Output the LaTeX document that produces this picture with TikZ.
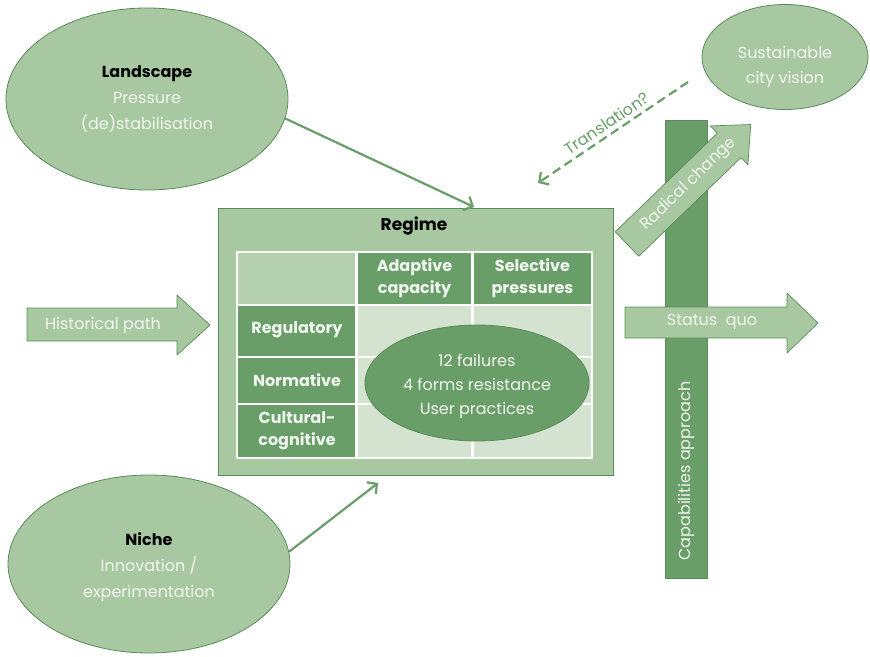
\documentclass[tikz,border=0pt]{standalone}
\usepackage{fontspec}
\setmainfont{Poppins}
\usetikzlibrary{shapes.geometric,arrows.meta,calc}

\definecolor{leaf}{HTML}{A8C8A1}
\definecolor{moss}{HTML}{6A9E69}
\definecolor{rim}{HTML}{5A8B5A}
\definecolor{pale}{HTML}{D3E3D0}
\definecolor{chalk}{HTML}{F1F5EF}

\tikzset{
  base/.style={font=\fontsize{16}{24}\selectfont},
  bubble/.style={ellipse, fill=leaf, draw=rim, line width=0.8pt, inner sep=0pt},
  bubbletext/.style={align=center, text=chalk, inner sep=0pt,
    font=\fontsize{16}{26}\selectfont},
  cell/.style={rectangle, draw=white, line width=2.5pt, inner sep=0pt,
    align=center, text=chalk, font=\fontsize{16}{22}\selectfont\bfseries},
  darkcell/.style={cell, fill=moss},
  palecell/.style={cell, fill=pale},
  blockarrow/.style={fill=leaf, draw=rim, line width=0.7pt, line join=round},
  arrowtext/.style={base, text=chalk, inner sep=0pt},
  link/.style={draw=moss, line width=2.2pt,
    -{Straight Barb[length=7pt,width=15pt,line width=2.2pt]}},
  hint/.style={link, dash pattern=on 9pt off 5pt},
  title/.style={text=black, font=\fontsize{17}{24}\selectfont\bfseries}
}

\begin{document}
\begin{tikzpicture}[x=1pt, y=-1pt]
  \useasboundingbox (0,0) rectangle (870,656);

  % capability bar sits behind the outgoing arrows
  \node[rectangle, fill=moss, draw=rim, line width=0.7pt, minimum width=42pt,
        minimum height=458pt, inner sep=0pt] (capbar) at (686,349) {};
  \node[arrowtext, rotate=90] (captext) at (686,471) {Capabilities approach};

  % landscape, niche and vision bubbles
  \node[bubble, minimum width=282pt, minimum height=182pt] (landscape) at (147,99) {};
  \node[bubbletext] (landtext) at (147,99.5)
    {{\bfseries\color{black}Landscape}\\Pressure\\(de)stabilisation};
  \node[bubble, minimum width=282pt, minimum height=178pt] (niche) at (149,564) {};
  \node[bubbletext] (nichetext) at (149,567)
    {{\bfseries\color{black}Niche}\\Innovation /\\experimentation};
  \node[bubble, minimum width=166pt, minimum height=105pt] (vision) at (785,57) {};
  \node[bubbletext, font=\fontsize{16}{25}\selectfont] (visiontext) at (785,67)
    {Sustainable\\city vision};

  % regime box
  \node[rectangle, fill=leaf, draw=rim, line width=0.8pt, minimum width=395pt,
        minimum height=267pt, inner sep=0pt] (regime) at (415.5,341.5) {};
  \node[title] (regimetitle) at (414,226) {Regime};

  % the grid inside the regime
  \node[cell, fill=leaf!85!white, minimum width=120pt, minimum height=53pt] (corner) at (297,278.5) {};
  \node[darkcell, minimum width=116pt, minimum height=53pt] (adaptive) at (414.5,278.5) {Adaptive\\capacity};
  \node[darkcell, minimum width=119pt, minimum height=53pt] (selective) at (532.5,278.5) {Selective\\pressures};

  \node[darkcell, minimum width=120pt, minimum height=52pt] (regulatory) at (297,331) {\raisebox{7pt}{Regulatory}};
  \node[darkcell, minimum width=120pt, minimum height=47pt] (normative) at (297,380.5) {Normative};
  \node[darkcell, minimum width=120pt, minimum height=54pt] (cultural) at (297,431) {Cultural-\\cognitive};

  \node[palecell, minimum width=116pt, minimum height=52pt] (b11) at (414.5,331) {};
  \node[palecell, minimum width=119pt, minimum height=52pt] (b12) at (532.5,331) {};
  \node[palecell, minimum width=116pt, minimum height=47pt] (b21) at (414.5,380.5) {};
  \node[palecell, minimum width=119pt, minimum height=47pt] (b22) at (532.5,380.5) {};
  \node[palecell, minimum width=116pt, minimum height=54pt] (b31) at (414.5,431) {};
  \node[palecell, minimum width=119pt, minimum height=54pt] (b32) at (532.5,431) {};

  \node[ellipse, fill=moss, draw=rim, line width=0.8pt, inner sep=0pt,
        minimum width=224pt, minimum height=116pt] (failures) at (477,383) {};
  \node[base, align=center, text=chalk, inner sep=0pt] (failtext) at (477,386)
        {12 failures\\4 forms resistance\\User practices};

  % historical path arrow
  \path[blockarrow] (27,308) -- (177,308) -- (177,295) -- (210,325)
        -- (177,355) -- (177,341) -- (27,341) -- cycle;
  \node[arrowtext] (history) at (103,325) {Historical path};

  % status quo arrow
  \path[blockarrow] (625,307) -- (787,307) -- (787,293) -- (818,323)
        -- (787,353) -- (787,338) -- (625,338) -- cycle;
  \node[arrowtext] (statusquo) at (712,322) {Status\ \ quo};

  % radical change arrow
  \begin{scope}[shift={(627,244)}, rotate=44]
    \path[blockarrow] (0,-17) -- (142,-17) -- (142,-27) -- (172,0)
          -- (142,27) -- (142,17) -- (0,17) -- cycle;
    \node[arrowtext, rotate=44] (radical) at (86,0) {Radical change};
  \end{scope}

  % connectors
  \coordinate (landin) at (474,207);
  \coordinate (nichein) at (378,483);
  \coordinate (transend) at (538,183);
  \coordinate (transstart) at (688,82);
  \draw[link] (landscape.-8) -- (landin);
  \draw[link] (niche.5) -- (nichein);
  \draw[hint] (transstart) -- (transend)
    node[midway, sloped, above=4pt, base, text=moss, inner sep=0pt] (translation) {Translation?};
\end{tikzpicture}
\end{document}
